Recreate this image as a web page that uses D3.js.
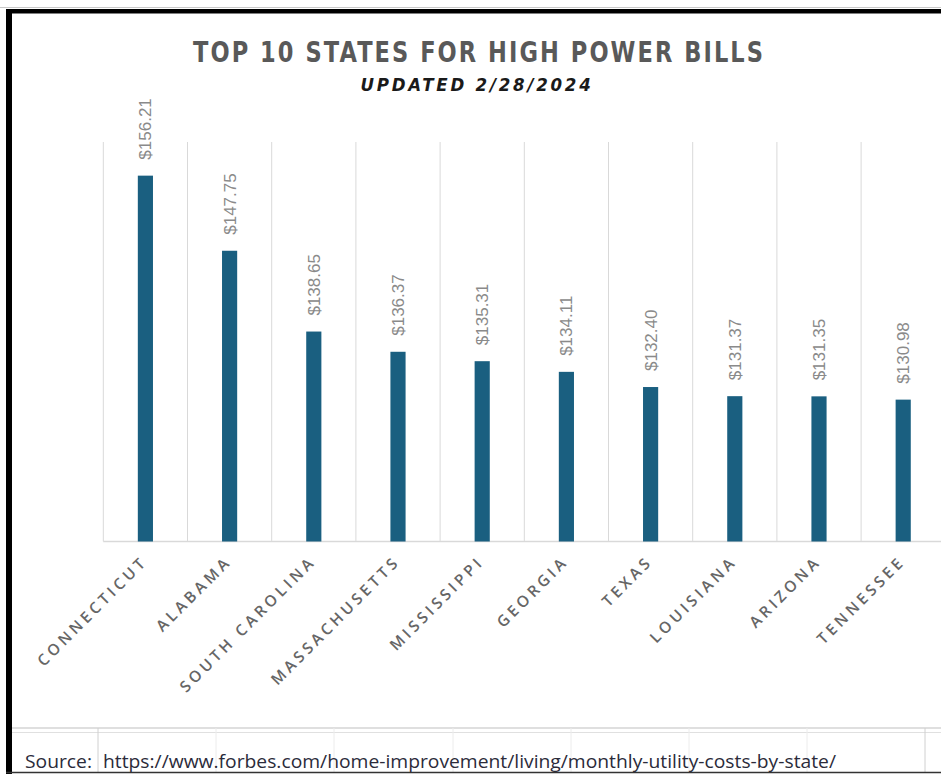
<!DOCTYPE html>
<html>
<head>
<meta charset="utf-8">
<script src="https://cdn.jsdelivr.net/npm/d3@7"></script>
<style>
  html, body { margin: 0; padding: 0; background: #fff; }
  svg { display: block; }
</style>
</head>
<body>
<svg id="chart" width="941" height="774"></svg>
<script>
const states = ["CONNECTICUT", "ALABAMA", "SOUTH CAROLINA", "MASSACHUSETTS", "MISSISSIPPI",
                "GEORGIA", "TEXAS", "LOUISIANA", "ARIZONA", "TENNESSEE"];
const bills = [156.21, 147.75, 138.65, 136.37, 135.31, 134.11, 132.40, 131.37, 131.35, 130.98];
const titleText = "TOP 10 STATES FOR HIGH POWER BILLS";
const subtitleText = "UPDATED 2/28/2024";
const sourceLabel = "Source:";
const sourceUrl = "https://www.forbes.com/home-improvement/living/monthly-utility-costs-by-state/";
const yDomain = [115, 160];

const svg = d3.select("#chart");
const W = 941, H = 774;

svg.append("rect").attr("x", 0).attr("y", 0).attr("width", W).attr("height", H).attr("fill", "#fff");
svg.append("line").attr("x1", 0).attr("x2", W).attr("y1", 7.5).attr("y2", 7.5)
  .attr("stroke", "#c8c8c8").attr("stroke-width", 1);

const x = d3.scaleBand().domain(states).range([103.3, 945.3]).paddingInner(0.82).paddingOuter(0.41);
const y = d3.scaleLinear().domain(yDomain).range([541.5, 142]);

const g = svg.append("g");

const bounds = states.map((s, i) => x.range()[0] + i * x.step());
bounds.push(x.range()[0] + states.length * x.step());
g.selectAll("line.grid").data(bounds).join("line")
  .attr("class", "grid")
  .attr("x1", d => d).attr("x2", d => d)
  .attr("y1", y(yDomain[1])).attr("y2", y(yDomain[0]))
  .attr("stroke", "#d9d9d9").attr("stroke-width", 1);

g.append("line")
  .attr("x1", x.range()[0]).attr("x2", W)
  .attr("y1", y(yDomain[0])).attr("y2", y(yDomain[0]))
  .attr("stroke", "#d9d9d9").attr("stroke-width", 1.5);

g.selectAll("rect.bar").data(states).join("rect")
  .attr("class", "bar")
  .attr("x", d => x(d))
  .attr("width", x.bandwidth())
  .attr("y", (d, i) => y(bills[i]))
  .attr("height", (d, i) => y(yDomain[0]) - y(bills[i]))
  .attr("fill", "#1a5f80");

g.selectAll("text.val").data(states).join("text")
  .attr("class", "val")
  .attr("transform", (d, i) => `translate(${x(d) + x.bandwidth() / 2 + 6},${y(bills[i]) - 16}) rotate(-90)`)
  .attr("text-anchor", "start")
  .attr("font-family", "'Liberation Sans', Arial, sans-serif")
  .attr("font-size", 17)
  .attr("fill", "#8a8a8a")
  .text((d, i) => "$" + d3.format(".2f")(bills[i]));

g.selectAll("text.cat").data(states).join("text")
  .attr("class", "cat")
  .attr("transform", d => `translate(${x(d) + x.bandwidth() / 2 + 3},${y(yDomain[0]) + 21}) rotate(-45)`)
  .attr("text-anchor", "end")
  .attr("font-family", "'Open Sans', sans-serif")
  .attr("font-weight", 600)
  .attr("font-size", 15.5)
  .attr("letter-spacing", "3.6px")
  .attr("fill", "#666666")
  .text(d => d);

svg.append("text")
  .attr("x", 479).attr("y", 62)
  .attr("text-anchor", "middle")
  .attr("font-family", "'DejaVu Sans', sans-serif")
  .attr("font-weight", "bold")
  .attr("font-size", 27.5)
  .attr("letter-spacing", "2.5px")
  .attr("textLength", 572)
  .attr("lengthAdjust", "spacingAndGlyphs")
  .attr("fill", "#595959")
  .text(titleText);

svg.append("text")
  .attr("x", 477).attr("y", 91)
  .attr("text-anchor", "middle")
  .attr("font-family", "'DejaVu Sans', sans-serif")
  .attr("font-weight", "bold")
  .attr("font-style", "italic")
  .attr("font-size", 18)
  .attr("letter-spacing", "3px")
  .attr("textLength", 233)
  .attr("lengthAdjust", "spacingAndGlyphs")
  .attr("fill", "#1a1a1a")
  .text(subtitleText);

svg.append("line").attr("x1", 12).attr("x2", W).attr("y1", 728).attr("y2", 728)
  .attr("stroke", "#d4d4d4").attr("stroke-width", 1.5);
svg.append("line").attr("x1", 12).attr("x2", W).attr("y1", 732.5).attr("y2", 732.5)
  .attr("stroke", "#e0e0e0").attr("stroke-width", 1);
const cellCols = [98, 216, 334, 453, 571, 689, 807, 925];
svg.selectAll("line.cell").data(cellCols).join("line")
  .attr("class", "cell")
  .attr("x1", d => d).attr("x2", d => d)
  .attr("y1", 728).attr("y2", 772)
  .attr("stroke", (d, i) => i === 0 || i === cellCols.length - 1 ? "#d0d0d0" : "#ececec")
  .attr("stroke-width", 1);

svg.append("text")
  .attr("x", 25).attr("y", 768)
  .attr("font-family", "'Open Sans', sans-serif")
  .attr("font-size", 17.5)
  .attr("textLength", 67)
  .attr("lengthAdjust", "spacingAndGlyphs")
  .attr("fill", "#2b2b3a")
  .text(sourceLabel);
svg.append("text")
  .attr("x", 103).attr("y", 768)
  .attr("font-family", "'Open Sans', sans-serif")
  .attr("font-size", 17.5)
  .attr("textLength", 733)
  .attr("lengthAdjust", "spacingAndGlyphs")
  .attr("fill", "#2b2b3a")
  .text(sourceUrl);

svg.append("rect").attr("x", 6).attr("y", 9).attr("width", W - 6).attr("height", 4.5).attr("fill", "#000");
svg.append("rect").attr("x", 6).attr("y", 9).attr("width", 6).attr("height", H - 9).attr("fill", "#000");
svg.append("line").attr("x1", 6).attr("x2", W).attr("y1", 772.5).attr("y2", 772.5)
  .attr("stroke", "#333").attr("stroke-width", 1.5);
</script>
</body>
</html>
